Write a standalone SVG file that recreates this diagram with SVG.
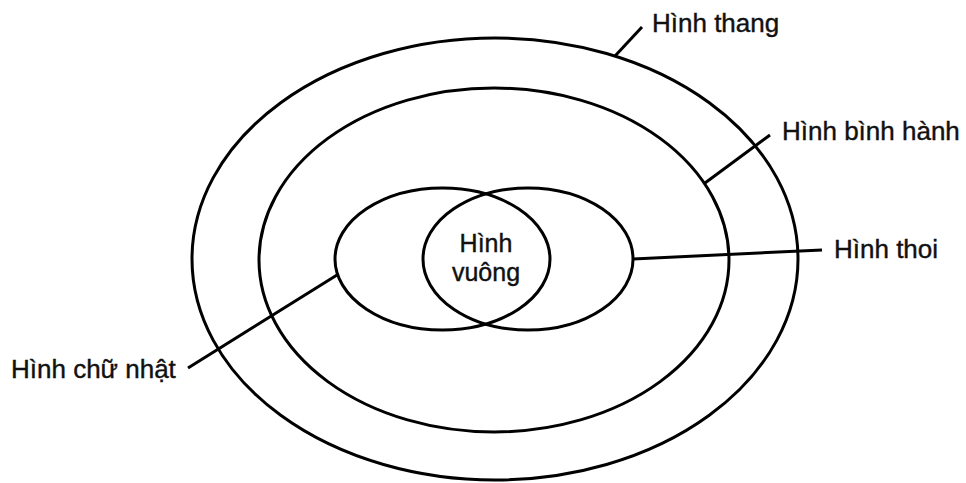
<svg xmlns="http://www.w3.org/2000/svg" width="966" height="483" viewBox="0 0 966 483">
  <style>
    .shape { fill: none; stroke: #000; stroke-width: 3; }
    .lead { fill: none; stroke: #000; stroke-width: 3; stroke-linecap: butt; }
    .lbl { font-family: "Liberation Sans", Arial, sans-serif; font-size: 26px; fill: #111; stroke: #111; stroke-width: 0.4; }
    .mid { text-anchor: middle; font-size: 25px; }
  </style>
  <rect width="966" height="483" fill="#fff"/>
  <g id="hinh-thang">
    <ellipse class="shape" cx="495" cy="259" rx="303" ry="221"/>
    <text class="lbl" x="652" y="32">Hình thang</text>
  </g>
  <g id="hinh-binh-hanh">
    <ellipse class="shape" cx="494" cy="260" rx="235" ry="172"/>
    <text class="lbl" x="782" y="140">Hình bình hành</text>
  </g>
  <g id="hinh-chu-nhat">
    <ellipse class="shape" cx="442.5" cy="259" rx="107.5" ry="71"/>
    <text class="lbl" x="11" y="378">Hình chữ nhật</text>
  </g>
  <g id="hinh-thoi">
    <ellipse class="shape" cx="528" cy="259" rx="105" ry="71"/>
    <text class="lbl" x="834" y="258">Hình thoi</text>
  </g>
  <g id="hinh-vuong">
    <text class="lbl mid" x="486" y="252">Hình</text>
    <text class="lbl mid" x="486" y="281">vuông</text>
  </g>
  <g id="connectors">
    <line class="lead" x1="642" y1="27" x2="615" y2="56"/>
    <line class="lead" x1="770" y1="135" x2="705" y2="183"/>
    <line class="lead" x1="633" y1="259" x2="822" y2="250"/>
    <line class="lead" x1="188" y1="368" x2="337" y2="275"/>
  </g>
</svg>
